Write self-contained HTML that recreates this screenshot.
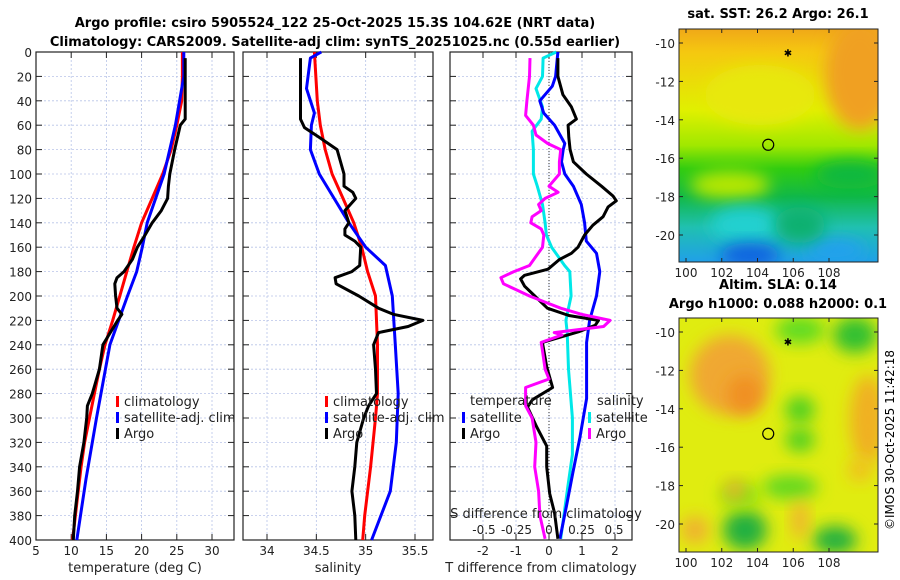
<!DOCTYPE html>
<html><head><meta charset="utf-8">
<style>
body{margin:0;background:#fff;}
svg{display:block;font-family:"DejaVu Sans","Liberation Sans",sans-serif;}
</style></head>
<body>
<svg id="c" width="900" height="580" viewBox="0 0 900 580" xmlns="http://www.w3.org/2000/svg">
<defs>
<linearGradient id="sstg" x1="0" y1="0" x2="0" y2="1">
<stop offset="0" stop-color="#f0a818"/><stop offset="0.1" stop-color="#f5c810"/>
<stop offset="0.35" stop-color="#e0f000"/><stop offset="0.5" stop-color="#a0e800"/>
<stop offset="0.6" stop-color="#30cc10"/><stop offset="0.72" stop-color="#10b848"/>
<stop offset="0.85" stop-color="#20c0b0"/><stop offset="1" stop-color="#20a0e8"/>
</linearGradient>
<filter id="bl" x="-50%" y="-50%" width="200%" height="200%"><feGaussianBlur stdDeviation="8"/></filter>
<clipPath id="m1"><rect x="679" y="29" width="199" height="233"/></clipPath>
<clipPath id="m2"><rect x="679" y="318" width="199" height="234"/></clipPath>
</defs>
<text x="335" y="27" text-anchor="middle" font-size="13" font-weight="bold">Argo profile: csiro 5905524_122 25-Oct-2025 15.3S 104.62E (NRT data)</text>
<text x="335" y="46" text-anchor="middle" font-size="13" font-weight="bold">Climatology: CARS2009. Satellite-adj clim: synTS_20251025.nc (0.55d earlier)</text>
<g id="plots"></g>
<g id="maps"></g>
<text transform="translate(894,440) rotate(-90)" text-anchor="middle" font-size="12">©IMOS 30-Oct-2025 11:42:18</text>
</svg>
<script>
// ---- data ----
const depthTicks=[0,20,40,60,80,100,120,140,160,180,200,220,240,260,280,300,320,340,360,380,400];
const tTicks=[5,10,15,20,25,30];
const sTicks=[34,34.5,35,35.5];
const dtTicks=[-2,-1,0,1,2];
const dsTicks=[-0.5,-0.25,0,0.25,0.5];
const dsTickLabels=["-0.5","-0.25","0","0.25","0.5"];
const tClimDepth=[0,20,40,60,80,100,120,140,160,180,200,220,240,260,280,300,320,340,360,380,400];
const tClim=[25.8,25.8,25.7,25.0,24.2,23.0,21.5,20.0,18.9,17.9,16.9,15.9,14.8,14.0,13.3,12.6,11.9,11.4,11.0,10.6,10.2];
const tSatDepth=[0,20,40,60,100,140,160,180,200,240,300,350,400];
const tSat=[26.0,26.0,25.4,24.8,23.2,20.8,20.1,19.3,18.0,15.5,13.6,12.1,10.8];
const tArgoDepth=[5,30,55,60,80,100,110,120,130,140,150,160,170,180,185,190,200,210,215,220,240,260,280,290,300,320,340,360,380,400];
const tArgo=[26.2,26.2,26.2,25.5,24.7,24.0,23.8,23.7,22.8,21.5,20.5,19.4,18.7,17.5,16.5,16.2,16.3,16.5,17.2,16.6,14.5,14.0,13.0,12.3,12.2,11.8,11.2,10.9,10.5,10.3];
const sClimDepth=[0,40,60,80,100,120,140,160,180,200,220,240,260,280,300,340,380,400];
const sClim=[34.48,34.51,34.54,34.59,34.66,34.77,34.88,34.96,35.02,35.10,35.11,35.12,35.12,35.12,35.10,35.05,34.99,34.97];
const sSatDepth=[0,5,30,50,60,80,100,120,140,160,175,200,240,280,320,360,400];
const sSat=[34.55,34.44,34.40,34.48,34.45,34.44,34.53,34.68,34.83,35.0,35.2,35.27,35.30,35.33,35.31,35.25,35.06];
const sArgoDepth=[5,55,62,70,80,100,110,115,120,130,140,145,150,155,160,175,180,185,190,200,210,215,220,225,230,240,260,280,290,300,320,340,360,380,400];
const sArgo=[34.34,34.34,34.38,34.53,34.71,34.78,34.78,34.87,34.90,34.79,34.83,34.79,34.79,34.89,34.95,34.94,34.86,34.69,34.70,34.93,35.13,35.28,35.58,35.43,35.13,35.08,35.10,35.11,35.03,34.98,34.91,34.89,34.86,34.89,34.90];
const dtArgoDepth=[5,20,35,45,55,60,70,80,90,100,110,118,122,127,135,142,150,155,160,165,170,178,183,186,192,200,210,216,220,224,229,238,258,275,285,291,307,323,340,362,378,399];
const dtArgo=[0.27,0.27,0.42,0.68,0.83,0.58,0.6,0.64,0.74,1.13,1.59,1.94,2.04,1.79,1.64,1.33,1.08,0.98,0.88,0.68,0.32,-0.03,-0.74,-0.86,-0.74,-0.43,-0.05,0.6,1.5,1.4,0.93,-0.2,-0.07,0.11,-0.5,-0.65,-0.38,-0.07,-0.07,0.02,0.17,0.27];
const dtSatDepth=[0,5,20,28,40,50,60,75,80,90,100,110,125,140,155,165,180,200,220,238,284,317,345,372,399];
const dtSat=[0.27,0.25,0.2,0.1,-0.28,-0.16,0.17,0.48,0.43,0.38,0.48,0.74,0.98,1.08,1.13,1.44,1.54,1.44,1.23,1.14,1.14,0.93,0.72,0.53,0.33];
const dsSatDepth=[0,5,20,30,45,55,65,80,100,110,125,140,150,160,175,180,200,220,230,260,300,330,360,399];
const dsSat=[0.056,-0.045,-0.05,-0.1,-0.05,-0.06,-0.13,-0.12,-0.12,-0.09,-0.05,-0.03,-0.02,0.02,0.12,0.16,0.17,0.13,0.14,0.15,0.18,0.18,0.14,0.09];
const dsArgoDepth=[5,20,40,52,60,68,75,80,90,100,110,115,120,125,130,135,140,145,150,160,175,180,185,190,195,200,205,210,215,220,225,230,232,238,245,260,268,275,290,300,320,340,360,380,399];
const dsArgo=[-0.146,-0.15,-0.17,-0.18,-0.12,-0.1,-0.01,0.09,0.08,0.08,0.0,0.07,-0.03,-0.08,-0.06,-0.13,-0.14,-0.06,-0.04,-0.05,-0.15,-0.27,-0.37,-0.35,-0.25,-0.15,-0.03,0.09,0.25,0.47,0.42,0.04,0.10,-0.06,-0.05,-0.03,0.0,-0.18,-0.18,-0.13,-0.1,-0.11,-0.08,-0.07,-0.03];
const lonTicks=[100,102,104,106,108];
const latTicks=[-10,-12,-14,-16,-18,-20];
const argoPos=[104.6,-15.3];
const otherPos=[105.7,-10.5];

const NS="http://www.w3.org/2000/svg";
function mk(tag,attrs,parent){const e=document.createElementNS(NS,tag);for(const k in attrs)e.setAttribute(k,attrs[k]);parent.appendChild(e);return e;}
const G=document.getElementById('plots');
const Y0=52,Y1=540;
const yD=d=>Y0+(d/400)*(Y1-Y0);
function lin(d0,d1,r0,r1){return v=>r0+(v-d0)/(d1-d0)*(r1-r0);}

function panel(name,x0,x1,xs,ticks,labels,xlabel,showY){
  const g=mk('g',{},G);
  
  
  for(const t of ticks){const x=xs(t);
    const l=mk('line',{x1:x,x2:x,y1:Y0,y2:Y1,stroke:'#b8c4e8','stroke-width':0.8,'stroke-dasharray':'2,2'},g);
    }
  for(const d of depthTicks){const y=yD(d);
    const l=mk('line',{x1:x0,x2:x1,y1:y,y2:y,stroke:'#b8c4e8','stroke-width':0.8,'stroke-dasharray':'2,2'},g);
    
    mk('line',{x1:x0,x2:x0+6,y1:y,y2:y,stroke:'#222'},g);mk('line',{x1:x1-6,x2:x1,y1:y,y2:y,stroke:'#222'},g);
    if(showY){const t=mk('text',{x:x0-4,y:y+5,'text-anchor':'end','font-size':12,fill:'#222'},g);t.textContent=d;
      }}
  ticks.forEach((t,i)=>{const x=xs(t);
    mk('line',{x1:x,x2:x,y1:Y1,y2:Y1-6,stroke:'#222'},g);mk('line',{x1:x,x2:x,y1:Y0,y2:Y0+6,stroke:'#222'},g);
    const tx=mk('text',{x:x,y:Y1+15,'text-anchor':'middle','font-size':12,fill:'#222'},g);tx.textContent=labels[i];
    });
  const xl=mk('text',{x:(x0+x1)/2,y:Y1+32,'text-anchor':'middle','font-size':13,fill:'#222'},g);xl.textContent=xlabel;
  
  const fr=mk('rect',{x:x0,y:Y0,width:x1-x0,height:Y1-Y0,fill:'none',stroke:'#222','stroke-width':1.2},g);
  
  return g;
}
function series(g,name,depths,vals,xs,color){
  const pts=depths.map((d,i)=>xs(vals[i]).toFixed(1)+','+yD(d).toFixed(1)).join(' ');
  const p=mk('polyline',{points:pts,fill:'none',stroke:color,'stroke-width':3,'stroke-linejoin':'round'},g);
  
}
function legend(g,x,y,text,color,name){
  const r=mk('rect',{x:x,y:y-10,width:3,height:11,fill:color},g);
  
  const t=mk('text',{x:x+8,y:y,'font-size':13,fill:'#222'},g);t.textContent=text;
  
}
// panel 1
const xT=lin(5,30,36,212);
const g1=panel('temperature-panel',36,234,xT,tTicks,tTicks.map(String),'temperature (deg C)',true);
series(g1,'temperature-climatology',tClimDepth,tClim,xT,'#ff0000');
series(g1,'temperature-satellite-adj',tSatDepth,tSat,xT,'#0000ff');
series(g1,'temperature-argo',tArgoDepth,tArgo,xT,'#000');
legend(g1,116,406,'climatology','#ff0000','legend-climatology');
legend(g1,116,422,'satellite-adj. clim','#0000ff','legend-satellite-adj');
legend(g1,116,438,'Argo','#000','legend-argo');
// panel 2
const xS=lin(34,35.5,267,415);
const g2=panel('salinity-panel',243,433,xS,sTicks,sTicks.map(String),'salinity',false);
series(g2,'salinity-climatology',sClimDepth,sClim,xS,'#ff0000');
series(g2,'salinity-satellite-adj',sSatDepth,sSat,xS,'#0000ff');
series(g2,'salinity-argo',sArgoDepth,sArgo,xS,'#000');
legend(g2,325,406,'climatology','#ff0000','legend-climatology');
legend(g2,325,422,'satellite-adj. clim','#0000ff','legend-satellite-adj');
legend(g2,325,438,'Argo','#000','legend-argo');
// panel 3
const xDT=lin(0,1,549,582), xDS=lin(0,0.5,549,614);
const g3=panel('difference-panel',450,632,xDT,dtTicks,dtTicks.map(String),'T difference from climatology',false);
const z=mk('line',{x1:549,x2:549,y1:Y0,y2:Y1,stroke:'#333','stroke-dasharray':'1,2'},g3);

series(g3,'salinity-diff-satellite',dsSatDepth,dsSat,xDS,'#00e8e8');
series(g3,'temperature-diff-satellite',dtSatDepth,dtSat,xDT,'#0000ff');
series(g3,'temperature-diff-argo',dtArgoDepth,dtArgo,xDT,'#000');
series(g3,'salinity-diff-argo',dsArgoDepth,dsArgo,xDS,'#ff00ff');
{const t=mk('text',{x:470,y:405,'font-size':13,fill:'#222'},g3);t.textContent='temperature';
 const t2=mk('text',{x:597,y:405,'font-size':13,fill:'#222'},g3);t2.textContent='salinity';}
legend(g3,462,422,'satellite','#0000ff','legend-t-satellite');
legend(g3,462,438,'Argo','#000','legend-t-argo');
legend(g3,588,422,'satellite','#00e8e8','legend-s-satellite');
legend(g3,588,438,'Argo','#ff00ff','legend-s-argo');
{const t=mk('text',{x:546,y:518,'text-anchor':'middle','font-size':13,fill:'#222'},g3);t.textContent='S difference from climatology';
 
 dsTicks.forEach((v,i)=>{const tx=mk('text',{x:xDS(v),y:534,'text-anchor':'middle','font-size':12,fill:'#222'},g3);tx.textContent=dsTickLabels[i];
  });}

// maps
const M=document.getElementById('maps');
const lonX=lin(100,108,686,829);
function map(name,top,bot,clip,title1,title2,drawBg){
  const g=mk('g',{},M);
  
  const latY=lin(-10,-20,top+14,top+206);
  const bg=mk('g',{'clip-path':'url(#'+clip+')'},g);drawBg(bg);
  mk('rect',{x:679,y:top,width:199,height:bot-top,fill:'none',stroke:'#222'},g);
  for(const v of lonTicks){const x=lonX(v);mk('line',{x1:x,x2:x,y1:bot,y2:bot-4,stroke:'#222'},g);mk('line',{x1:x,x2:x,y1:top,y2:top+4,stroke:'#222'},g);
    const t=mk('text',{x:x,y:bot+15,'text-anchor':'middle','font-size':12,fill:'#222'},g);t.textContent=v;}
  for(const v of latTicks){const y=latY(v);mk('line',{x1:679,x2:683,y1:y,y2:y,stroke:'#222'},g);mk('line',{x1:874,x2:878,y1:y,y2:y,stroke:'#222'},g);
    const t=mk('text',{x:675,y:y+5,'text-anchor':'end','font-size':12,fill:'#222'},g);t.textContent=v;}
  const c=mk('circle',{cx:lonX(argoPos[0]),cy:latY(argoPos[1]),r:5.5,fill:'none',stroke:'#000','stroke-width':1.2},g);
  
  const s=mk('text',{x:lonX(otherPos[0]),y:latY(otherPos[1])+4,'text-anchor':'middle','font-size':10,fill:'#000'},g);s.textContent='✱';
  
  if(title1){const t=mk('text',{x:778,y:top-(title2?29:11),'text-anchor':'middle','font-size':13,'font-weight':'bold'},g);t.textContent=title1;}
  if(title2){const t=mk('text',{x:778,y:top-10,'text-anchor':'middle','font-size':13,'font-weight':'bold'},g);t.textContent=title2;}
}
map('sst-map',29,262,'m1','sat. SST: 26.2 Argo: 26.1',null,bg=>{
  mk('rect',{x:679,y:29,width:199,height:233,fill:'url(#sstg)'},bg);
  mk('ellipse',{cx:860,cy:75,rx:35,ry:55,fill:'#f0a020',filter:'url(#bl)'},bg);
  mk('ellipse',{cx:760,cy:95,rx:55,ry:30,fill:'#e8e810',filter:'url(#bl)'},bg);
  mk('ellipse',{cx:730,cy:185,rx:40,ry:14,fill:'#b8e800',filter:'url(#bl)'},bg);
  mk('ellipse',{cx:850,cy:175,rx:35,ry:14,fill:'#10b840',filter:'url(#bl)'},bg);
  mk('ellipse',{cx:745,cy:225,rx:35,ry:18,fill:'#20d0d0',filter:'url(#bl)'},bg);
  mk('ellipse',{cx:750,cy:255,rx:30,ry:12,fill:'#1060e0',filter:'url(#bl)'},bg);
  mk('ellipse',{cx:835,cy:250,rx:30,ry:10,fill:'#20a0f0',filter:'url(#bl)'},bg);
  mk('ellipse',{cx:800,cy:225,rx:25,ry:18,fill:'#10b070',filter:'url(#bl)'},bg);
});
map('sla-map',318,552,'m2','Altim. SLA: 0.14','Argo h1000: 0.088 h2000: 0.1',bg=>{
  mk('rect',{x:679,y:318,width:199,height:234,fill:'#e0ec10'},bg);
  const blob=(cx,cy,rx,ry,f)=>mk('ellipse',{cx,cy,rx,ry,fill:f,filter:'url(#bl)'},bg);
  blob(730,375,40,40,'#f0a830');blob(745,395,18,20,'#f09020');
  blob(868,420,18,45,'#f0b020');blob(800,330,25,14,'#60dc20');
  blob(855,335,22,18,'#30c030');blob(800,410,15,14,'#50d020');
  blob(800,440,15,12,'#50d020');blob(790,487,28,12,'#60d820');
  blob(745,530,22,20,'#20b040');blob(835,540,22,14,'#20b040');
  blob(740,495,20,12,'#80e010');blob(735,490,10,10,'#f0b030');
  blob(695,530,14,14,'#f0b030');blob(800,520,8,20,'#f0b030');
  blob(860,470,12,12,'#f0c020');
});
</script>
</body></html>
